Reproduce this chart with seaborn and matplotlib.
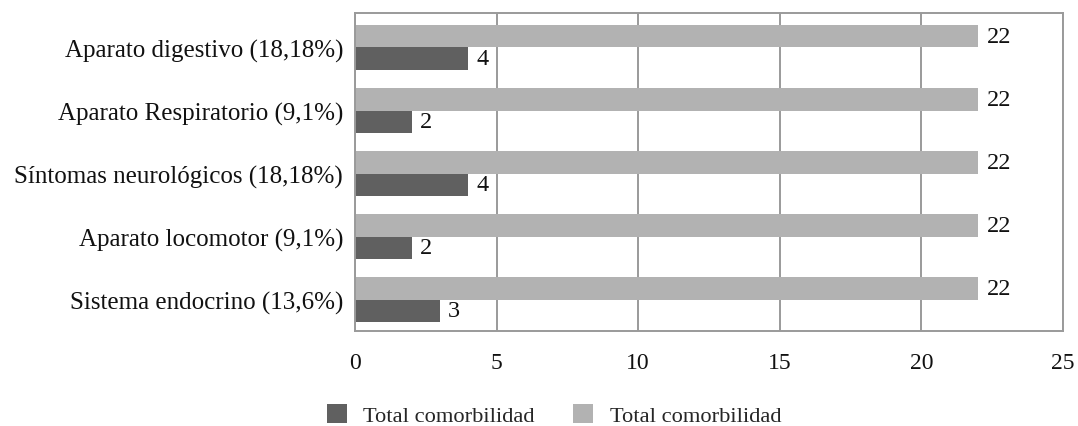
import matplotlib
matplotlib.use("Agg")
import matplotlib.pyplot as plt
from matplotlib.patches import Patch
import seaborn as sns
import pandas as pd

categorias = [
    "Aparato digestivo (18,18%)",
    "Aparato Respiratorio (9,1%)",
    "Síntomas neurológicos (18,18%)",
    "Aparato locomotor (9,1%)",
    "Sistema endocrino (13,6%)",
]
total_general = [22, 22, 22, 22, 22]
total_grupo = [4, 2, 4, 2, 3]
nombre_serie = "Total comorbilidad"
ticks_x = [0, 5, 10, 15, 20, 25]

color_claro = "#b2b2b2"
color_oscuro = "#606060"

sns.set_theme(style="white")
plt.rcParams["font.family"] = ["Liberation Serif", "DejaVu Serif"]

df = pd.DataFrame({
    "categoria": categorias * 2,
    "valor": total_general + total_grupo,
    "serie": ["general"] * len(categorias) + ["grupo"] * len(categorias),
})

fig = plt.figure(figsize=(10.78, 4.27), dpi=100)
ax = fig.add_axes([0.3293, 0.2225, 0.6568, 0.7447])

sns.barplot(
    data=df, y="categoria", x="valor", hue="serie",
    hue_order=["general", "grupo"],
    palette={"general": color_claro, "grupo": color_oscuro},
    orient="h", width=0.714, gap=0, saturation=1, linewidth=0,
    legend=False, ax=ax, errorbar=None,
)

for cont in ax.containers:
    ax.bar_label(cont, fmt="%g", padding=6, fontsize=17.5, color="#111111")

ax.set_xlim(0, 25)
ax.set_ylim(4.496, -0.547)
ax.set_xticks(ticks_x)
ax.set_xlabel("")
ax.set_ylabel("")
ax.grid(axis="x", color="#9a9a9a", linewidth=1.4)
ax.grid(axis="y", visible=False)
ax.set_axisbelow(True)
for s in ax.spines.values():
    s.set_color("#9a9a9a")
    s.set_linewidth(1.4)
ax.tick_params(axis="x", length=0, pad=15, labelsize=17, labelcolor="#111111")
ax.tick_params(axis="y", length=0, pad=8.5, labelsize=18, labelcolor="#111111")

handles = [
    Patch(facecolor=color_oscuro, edgecolor="none"),
    Patch(facecolor=color_claro, edgecolor="none"),
]
fig.legend(
    handles, [nombre_serie, nombre_serie],
    loc="center", bbox_to_anchor=(554 / 1078, 1 - 416 / 427),
    ncol=2, frameon=False, fontsize=16.2, borderpad=0, borderaxespad=0,
    handlelength=0.88, handleheight=0.97, handletextpad=0.75, columnspacing=1.7,
)

fig.savefig("out.png", dpi=100)
